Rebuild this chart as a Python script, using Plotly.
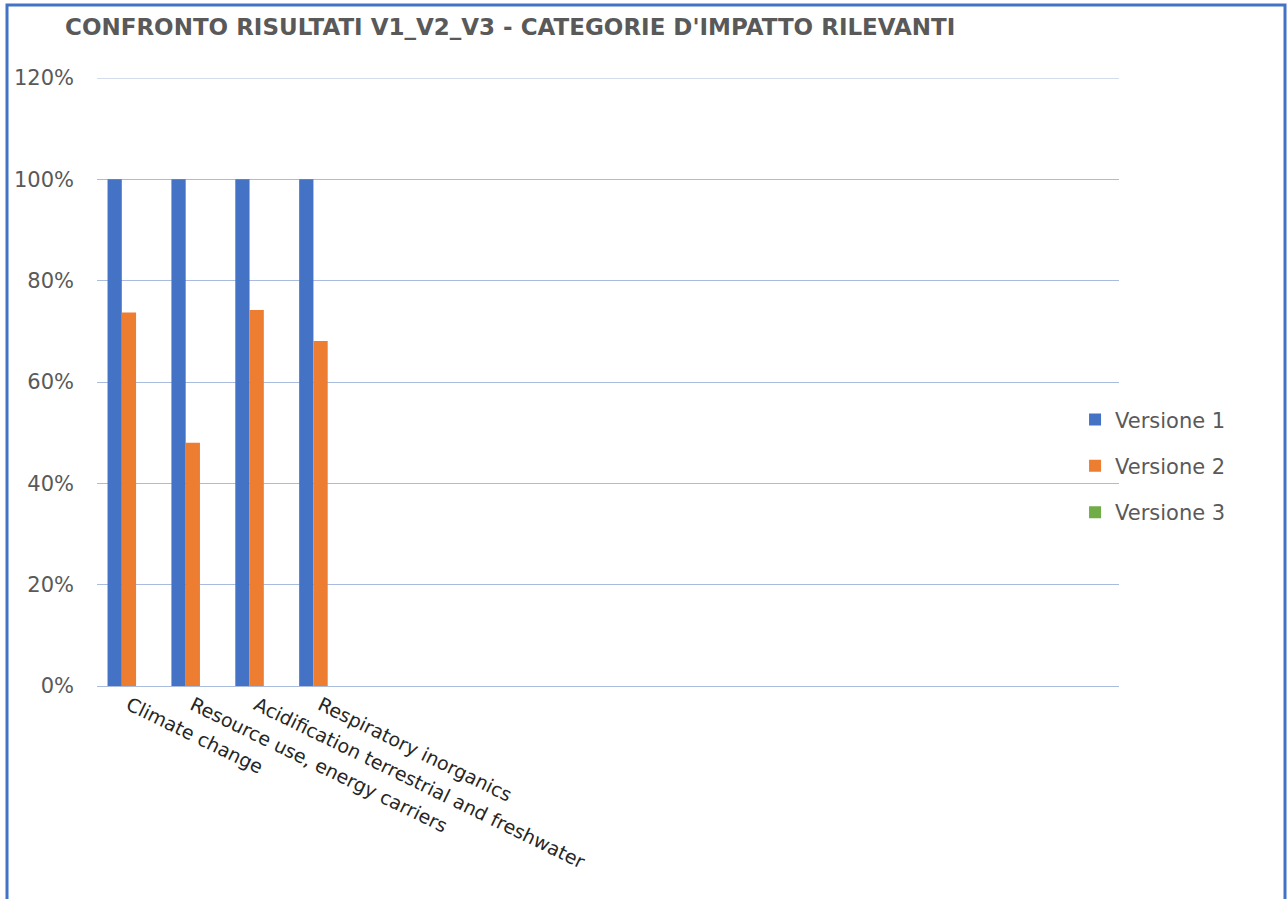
import plotly.graph_objects as go

# Impact categories (first slots of a 16-slot category axis; the rest are empty)
categories = [
    "Climate change",
    "Resource use, energy carriers",
    "Acidification terrestrial and freshwater",
    "Respiratory inorganics",
]
n_slots = 16

versione_1 = [1.00, 1.00, 1.00, 1.00]
versione_2 = [0.737, 0.48, 0.742, 0.681]
versione_3 = [0.0, 0.0, 0.0, 0.0]

series = [
    ("Versione 1", versione_1, "#4472C4"),
    ("Versione 2", versione_2, "#ED7D31"),
    ("Versione 3", versione_3, "#70AD47"),
]

y_ticks = [0, 0.2, 0.4, 0.6, 0.8, 1.0, 1.2]

x_pos = list(range(len(categories)))

fig = go.Figure()
for i, (name, vals, color) in enumerate(series):
    fig.add_trace(go.Bar(
        x=x_pos, y=vals, name=name,
        marker=dict(color=color, line=dict(width=0)),
        legendgroup=f"g{i}",
    ))

grid_col = "#A9BCDD"
font_main = "DejaVu Sans"

fig.update_layout(
    width=1287, height=899,
    margin=dict(l=97, r=168, t=78, b=213),
    paper_bgcolor="white", plot_bgcolor="white",
    barmode="group", bargap=0.33, bargroupgap=0,
    title=dict(
        text="<b>CONFRONTO RISULTATI V1_V2_V3 - CATEGORIE D'IMPATTO RILEVANTI</b>",
        x=65 / 1287, xref="container", xanchor="left",
        y=1 - 27 / 899, yref="container", yanchor="middle",
        font=dict(family=font_main, size=23, color="#595959"),
    ),
    legend=dict(
        x=1.0 - 0.043, xanchor="left", xref="paper",
        y=0.362, yanchor="middle",
        font=dict(family=font_main, size=21, color="#595959"),
        tracegroupgap=16, bgcolor="rgba(0,0,0,0)",
    ),
    xaxis=dict(
        range=[-0.5, n_slots - 0.5],
        tickmode="array", tickvals=x_pos, ticktext=categories,
        tickangle=26,
        tickfont=dict(family=font_main, size=19, color="#262626"),
        showgrid=False, zeroline=False,
        showline=True, linecolor=grid_col, linewidth=1,
        ticks="",
    ),
    yaxis=dict(
        range=[0, 1.2], tickvals=y_ticks, tickformat=".0%",
        tickfont=dict(family=font_main, size=21, color="#595959"),
        showgrid=True, gridcolor=grid_col, gridwidth=1,
        zeroline=False, showline=False, ticks="",
        ticklabelstandoff=22,
    ),
    showlegend=True,
)

# Gridline at the top of the value axis (plotly skips it at the range edge)
fig.add_shape(
    type="line", xref="paper", yref="y",
    x0=0, x1=1, y0=y_ticks[-1], y1=y_ticks[-1],
    line=dict(color=grid_col, width=1), layer="below",
)

# Outer chart border
fig.add_shape(
    type="rect", xref="paper", yref="paper",
    x0=(7 - 97) / 1022, x1=(1285 - 97) / 1022,
    y0=-0.5, y1=(686 - 5) / 608,
    line=dict(color="#4472C4", width=3), layer="below",
)

fig.write_html("out.html")
